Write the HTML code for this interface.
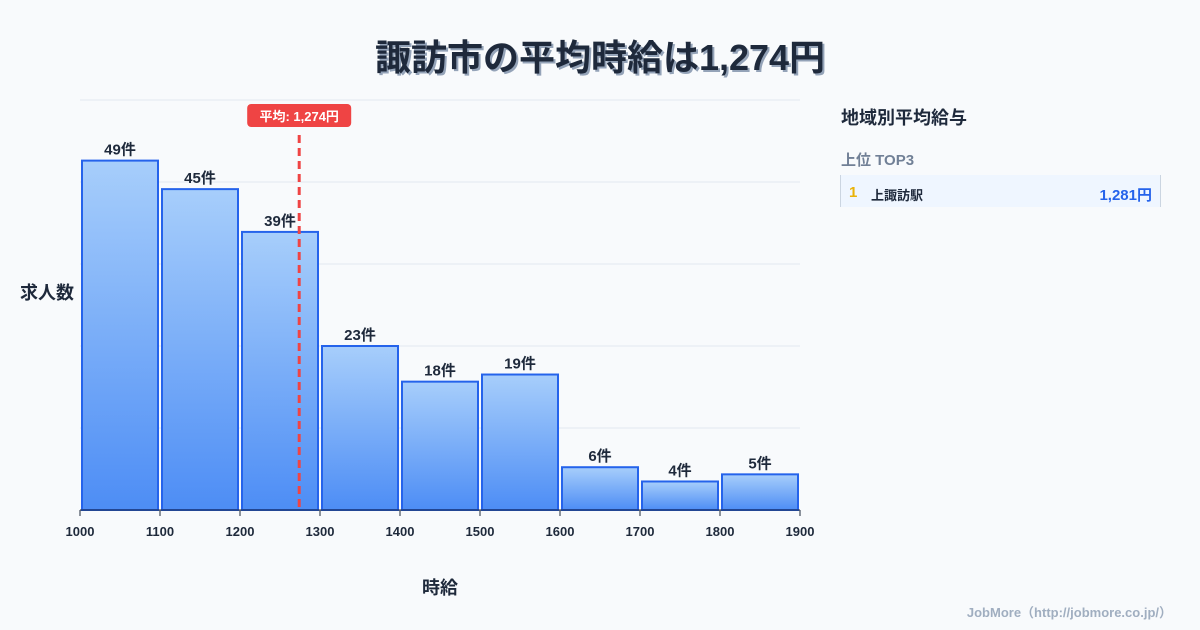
<!DOCTYPE html>
<html><head><meta charset="utf-8"><style>
body{margin:0;width:1200px;height:630px;background:#f8fafc;font-family:"Liberation Sans","Noto Sans CJK JP",sans-serif;overflow:hidden;position:relative}
.t{position:absolute;left:0;width:1200px;top:29px;text-align:center;font-size:36px;font-weight:bold;color:#1e293b;text-shadow:2px 2px 0 #94a3b8}
</style></head><body>
<div class="t">諏訪市の平均時給は1,274円</div>
<svg id="c" width="1200" height="630" style="position:absolute;left:0;top:0">
<defs><linearGradient id="g" x1="0" y1="0" x2="0" y2="1"><stop offset="0" stop-color="#a7cefb"/><stop offset="1" stop-color="#4d8df5"/></linearGradient></defs>
</svg>
<div style="position:absolute;left:841px;top:104px;font-size:18px;font-weight:bold;color:#1e293b">地域別平均給与</div>
<div style="position:absolute;left:841px;top:149px;font-size:15px;font-weight:bold;color:#718096">上位 TOP3</div>
<div style="position:absolute;left:840px;top:175px;width:319px;height:32px;background:#eff6ff;border-left:1px solid #cbd5e1;border-right:1px solid #cbd5e1">
<span style="position:absolute;left:8px;top:9px;font-size:15px;font-weight:bold;color:#eab308">1</span>
<span style="position:absolute;left:30px;top:10px;font-size:13px;font-weight:bold;color:#1e293b">上諏訪駅</span>
<span style="position:absolute;right:8px;top:9px;font-size:15px;font-weight:bold;color:#2563eb">1,281円</span></div>
<div style="position:absolute;right:28px;top:602px;font-size:13px;font-weight:bold;color:#a0aec0">JobMore（http://jobmore.co.jp/）</div>
<script>
const bins=[1000,1100,1200,1300,1400,1500,1600,1700,1800];
const counts=[49,45,39,23,18,19,6,4,5];
const xTicks=[1000,1100,1200,1300,1400,1500,1600,1700,1800,1900];
const avg=1274;
const svg=document.getElementById('c');const NS='http://www.w3.org/2000/svg';
const X=v=>80+(v-1000)*0.8, Y=v=>510-v*(410/57.5);
function mk(t,a,txt){const e=document.createElementNS(NS,t);for(const k in a)e.setAttribute(k,a[k]);if(txt!=null)e.textContent=txt;svg.appendChild(e);return e;}
for(let i=0;i<=5;i++){const g=mk('line',{x1:80,x2:800,y1:100+i*82,y2:100+i*82,stroke:'#e2e8f0'});

}
bins.forEach((b,i)=>{const x0=X(b)+2,x1=X(b+100)-2,y=Y(counts[i]);
const r=mk('rect',{x:x0,y:y,width:x1-x0,height:510-y,fill:'url(#g)',stroke:'#2563eb','stroke-width':2});


const t=mk('text',{x:(x0+x1)/2,y:y-6,'text-anchor':'middle','font-size':15,'font-weight':'bold',fill:'#1e293b'},counts[i]+'件');

});
mk('line',{x1:80,x2:800,y1:510,y2:510,stroke:'#1e293b'});
xTicks.forEach(v=>{mk('line',{x1:X(v),x2:X(v),y1:510,y2:516,stroke:'#1e293b'});
const t=mk('text',{x:X(v),y:536,'text-anchor':'middle','font-size':13,'font-weight':'bold',fill:'#1e293b'},v);

});
const ax=X(avg);
const l=mk('line',{x1:ax,x2:ax,y1:135,y2:510,stroke:'#ef4444','stroke-width':3,'stroke-dasharray':'8,5'});


mk('rect',{x:ax-52,y:104,width:104,height:23,rx:4,fill:'#ef4444'});
const at=mk('text',{x:ax,y:121,'text-anchor':'middle','font-size':13,'font-weight':'bold',fill:'#fff'},'平均: 1,274円');


const yt=mk('text',{x:20,y:299,'font-size':18,'font-weight':'bold',fill:'#1e293b'},'求人数');


const xt=mk('text',{x:440,y:594,'text-anchor':'middle','font-size':18,'font-weight':'bold',fill:'#1e293b'},'時給');


</script>
</body></html>
